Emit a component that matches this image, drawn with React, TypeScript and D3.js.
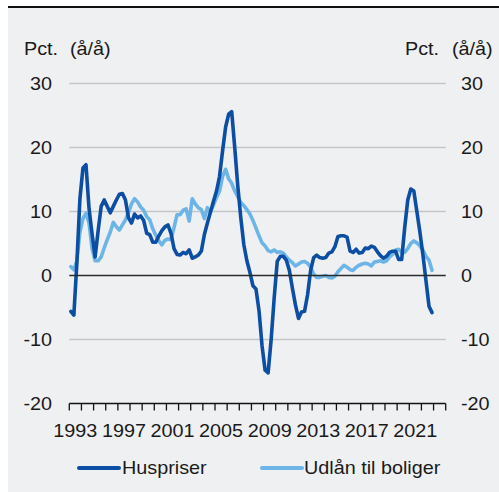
import React from "react";
import * as d3 from "d3";

// quarterly, 1993K1 - 2022K4
const startYear = 1993;
const huspriser = [
  -5.6, -6.2, 2.0, 12.0,
  16.8, 17.3, 10.5, 6.5,
  2.9, 7.0, 10.8, 11.8,
  10.8, 9.8, 10.8, 11.8,
  12.7, 12.8, 11.8, 9.0,
  8.2, 9.6, 9.0, 9.3,
  8.6, 6.6, 6.4, 5.2,
  5.2, 6.2, 7.0, 7.6,
  7.9, 6.6, 4.2, 3.3,
  3.2, 3.6, 3.4, 4.0,
  2.7, 2.9, 3.2, 3.8,
  6.4, 8.2, 9.9, 11.6,
  13.2, 15.5, 19.5, 23.2,
  25.2, 25.6, 20.0, 14.0,
  9.0, 4.8, 2.3, 0.5,
  -1.6, -2.1, -5.5, -11.0,
  -14.8, -15.2, -10.0, -3.5,
  2.2, 3.0, 3.0, 2.4,
  0.8, -2.0, -4.6, -6.7,
  -5.7, -5.6, -3.0, 0.8,
  2.8, 3.2, 2.8, 2.7,
  2.8, 3.5, 3.7, 4.5,
  6.1, 6.2, 6.2, 6.0,
  3.8, 3.6, 4.1, 3.5,
  3.6, 4.3, 4.2, 4.6,
  4.4, 3.7, 3.1, 2.7,
  3.0, 3.6, 3.8, 3.8,
  2.5, 2.5, 7.5, 11.8,
  13.5, 13.2, 10.0, 6.8,
  3.2, -0.8, -4.8, -5.8,
];
const udlaan = [
  1.4, 0.9, 2.3, 6.8,
  8.9, 9.7, 8.2, 4.2,
  2.3, 2.3, 2.9, 4.3,
  5.6, 6.8, 8.3, 7.6,
  7.1, 7.9, 8.7, 9.8,
  11.2, 12.0, 11.5, 10.7,
  10.2, 9.2, 8.7, 7.3,
  6.3, 5.4, 4.8, 5.5,
  5.7, 5.6, 7.5, 9.5,
  9.5, 10.2, 10.4, 8.5,
  12.0, 11.2, 10.6, 10.3,
  8.9, 10.6, 9.9, 11.0,
  12.2, 13.2, 15.5, 16.6,
  15.1, 14.4, 13.2, 12.3,
  11.4, 10.9, 10.3, 9.6,
  8.6, 7.4, 6.2, 5.1,
  4.6, 3.9, 3.7, 4.0,
  3.6, 3.7, 3.5, 2.9,
  2.4, 2.0, 1.5, 1.8,
  2.1, 2.2, 1.9, 1.3,
  0.2, -0.3, -0.3, -0.1,
  0.0, -0.3, -0.4, -0.1,
  0.6, 1.1, 1.6, 1.3,
  0.9, 0.8, 1.3, 1.6,
  1.8, 1.9, 1.8, 1.5,
  2.1, 2.2, 2.3, 2.1,
  2.3, 2.9, 3.3, 4.0,
  4.1, 3.6, 3.6, 4.2,
  5.0, 5.4, 5.1, 4.6,
  4.0, 3.0, 2.4, 0.8,
];
const yearLabels = [1993, 1997, 2001, 2005, 2009, 2013, 2017, 2021];
const yTicks = [-20, -10, 0, 10, 20, 30];

const W = 499;
const H = 492;
const darkBlue = "#0c4ea3";
const lightBlue = "#6db5e6";
const textColor = "#1a1a1a";
const font = "'Liberation Sans', Arial, sans-serif";
const stretch = 1.1;

function Label({ x, y, anchor = "start", size = 18, children }: any) {
  return (
    <text
      transform={`translate(${x},${y}) scale(${stretch},1)`}
      textAnchor={anchor}
      dominantBaseline="central"
      fontSize={size}
      fontFamily={font}
      fill={textColor}
    >
      {children}
    </text>
  );
}

export default function App() {
  const x = d3.scaleLinear().domain([1993, 2024]).range([69.3, 445.7]);
  const y = d3.scaleLinear().domain([-20, 30]).range([403.5, 83.5]);

  const toPoints = (vals: number[]) =>
    vals.map((v, i) => ({ t: startYear + (i + 0.5) / 4, v }));

  const line = d3
    .line<{ t: number; v: number }>()
    .x((d) => x(d.t))
    .y((d) => y(d.v));

  const years = d3.range(1993, 2025);

  return (
    <svg
      width={W}
      height={H}
      style={{ position: "absolute", left: 0, top: 0, display: "block" }}
    >
      <rect x={0} y={0} width={W} height={H} fill="#ffffff" />
      <rect x={8} y={8} width={W - 8} height={H - 8} fill="#eff0f2" />
      <line x1={8} x2={W} y1={7} y2={7} stroke="#111" strokeWidth={2} />

      {/* gridlines */}
      {yTicks
        .filter((t) => t !== 0 && t !== -20)
        .map((t) => (
          <line
            key={t}
            x1={x(1993)}
            x2={x(2024)}
            y1={y(t)}
            y2={y(t)}
            stroke="#c4c5c7"
            strokeWidth={1.3}
          />
        ))}

      {/* series */}
      <path
        d={line(toPoints(udlaan)) || ""}
        fill="none"
        stroke={lightBlue}
        strokeWidth={3.6}
        strokeLinejoin="round"
        strokeLinecap="round"
      />
      <path
        d={line(toPoints(huspriser)) || ""}
        fill="none"
        stroke={darkBlue}
        strokeWidth={3.6}
        strokeLinejoin="round"
        strokeLinecap="round"
      />

      {/* zero line */}
      <line
        x1={x(1993)}
        x2={x(2024)}
        y1={y(0)}
        y2={y(0)}
        stroke="#2b2b2b"
        strokeWidth={1.5}
      />

      {/* bottom axis */}
      <line
        x1={x(1993)}
        x2={x(2024)}
        y1={y(-20)}
        y2={y(-20)}
        stroke="#111"
        strokeWidth={1.5}
      />
      {years.map((yr) => (
        <line
          key={yr}
          x1={x(yr)}
          x2={x(yr)}
          y1={y(-20)}
          y2={y(-20) + 7}
          stroke="#111"
          strokeWidth={1.3}
        />
      ))}
      {yearLabels.map((yr) => (
        <Label key={yr} x={x(yr + 0.5)} y={431} anchor="middle">
          {yr}
        </Label>
      ))}

      {/* y labels */}
      {yTicks.map((t) => (
        <Label key={"l" + t} x={52} y={y(t)} anchor="end">
          {t}
        </Label>
      ))}
      {yTicks.map((t) => (
        <Label key={"r" + t} x={461} y={y(t)}>
          {t}
        </Label>
      ))}

      {/* units */}
      <Label x={24} y={49}>Pct.</Label>
      <Label x={70} y={49}>(å/å)</Label>
      <Label x={405} y={49}>Pct.</Label>
      <Label x={452} y={49}>(å/å)</Label>

      {/* legend */}
      <line x1={79} x2={119} y1={468} y2={468} stroke={darkBlue} strokeWidth={4} strokeLinecap="round" />
      <Label x={122} y={468}>Huspriser</Label>
      <line x1={262} x2={302} y1={468} y2={468} stroke={lightBlue} strokeWidth={4} strokeLinecap="round" />
      <Label x={304} y={468}>Udlån til boliger</Label>
    </svg>
  );
}
